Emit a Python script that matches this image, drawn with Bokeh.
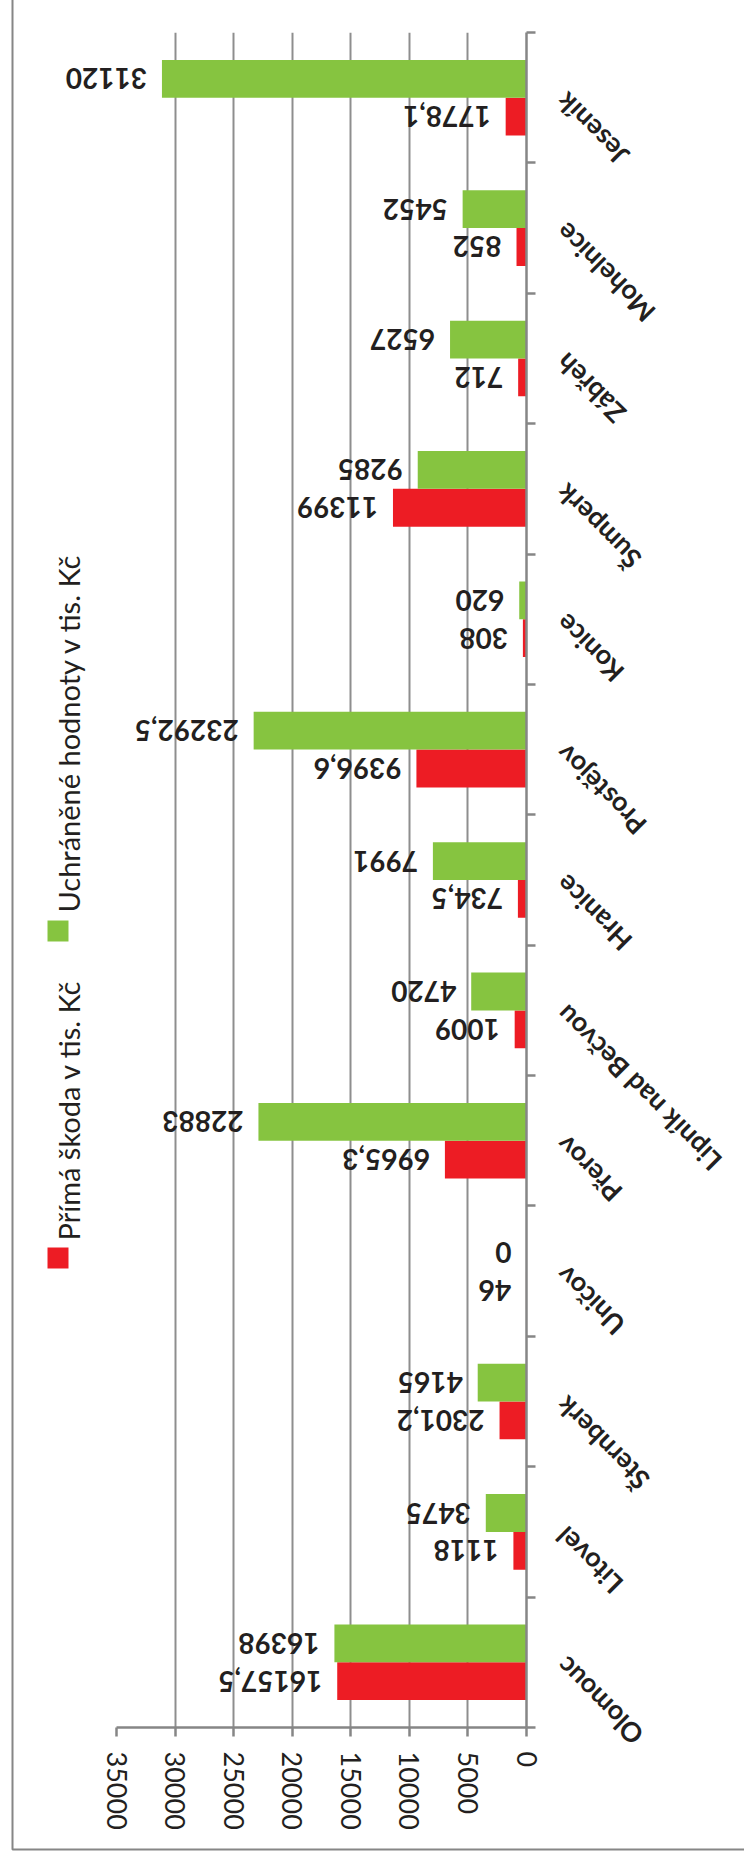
import math
from bokeh.plotting import figure
from bokeh.models import Range1d, LinearAxis, FixedTicker, ColumnDataSource
from bokeh.transform import dodge
from bokeh.core.properties import value
from bokeh.embed import file_html
from bokeh.resources import INLINE

# ---------------- data ----------------
categories = ["Olomouc", "Litovel", "Šternberk", "Uničov", "Přerov", "Lipník nad Bečvou",
              "Hranice", "Prostějov", "Konice", "Šumperk", "Zábřeh", "Mohelnice", "Jeseník"]
prima_skoda = [16157.5, 1118, 2301.2, 46, 6965.3, 1009, 734.5, 9396.6, 308, 11399, 712, 852, 1778.1]
uchranene = [16398, 3475, 4165, 0, 22883, 4720, 7991, 23292.5, 620, 9285, 6527, 5452, 31120]
value_ticks = [0, 5000, 10000, 15000, 20000, 25000, 30000, 35000]
series_names = ["Přímá škoda v tis. Kč", "Uchráněné hodnoty v tis. Kč"]

# ---------------- style / layout ----------------
RED = "#ED1C24"
GREEN = "#86C440"
GRID = "#8E8E8E"
AXIS = "#868686"
TXT = "#231F20"
FONT = "Lato"
W, H = 744, 1854
FL, FR, FT, FB = 116, 526, 32, 1727   # frame edges in page pixels
BAR = 0.29
N = len(categories)


def fmt(v):
    return f"{v:g}".replace(".", ",")


src = ColumnDataSource(dict(
    cat=categories,
    pos=[i + 0.5 for i in range(N)],          # centre of each category band
    prima=prima_skoda,
    uchr=uchranene,
    prima_lbl=[fmt(v) for v in prima_skoda],
    uchr_lbl=[fmt(v) for v in uchranene],
))

p = figure(width=W, height=H,
           x_range=Range1d(max(value_ticks), min(value_ticks)),
           y_range=Range1d(0, N),
           output_backend="svg", toolbar_location=None,
           y_axis_location=None,
           min_border_left=FL, min_border_right=W - FR,
           min_border_top=FT, min_border_bottom=H - FB,
           outline_line_color=None, background_fill_color="white",
           border_fill_color="white")

# pixel-space ranges for decorations outside the plot area
p.extra_y_ranges = {"py": Range1d(FB, FT)}
p.extra_x_ranges = {"px": Range1d(FL, FR)}

# value axis (bottom)
xa = p.xaxis[0]
xa.ticker = FixedTicker(ticks=value_ticks)
xa.major_label_orientation = "vertical"
xa.major_label_text_font = FONT
xa.major_label_text_font_size = "27px"
xa.major_label_text_color = TXT
xa.major_label_standoff = 15
xa.major_tick_out = 9
xa.major_tick_in = 0
xa.minor_tick_out = 0
xa.minor_tick_in = 0
xa.axis_line_color = AXIS
xa.axis_line_width = 2.5
xa.major_tick_line_color = AXIS
xa.major_tick_line_width = 2.5

p.xgrid.ticker = FixedTicker(ticks=value_ticks)
p.xgrid.grid_line_color = GRID
p.xgrid.grid_line_width = 2
p.ygrid.visible = False

# category axis (right) with ticks between categories
ra = LinearAxis(ticker=FixedTicker(ticks=list(range(N + 1))),
                major_label_overrides={i: "" for i in range(N + 1)},
                major_tick_out=9, major_tick_in=0, minor_tick_out=0, minor_tick_in=0,
                axis_line_color=AXIS, axis_line_width=2.5,
                major_tick_line_color=AXIS, major_tick_line_width=2.5)
p.add_layout(ra, "right")

# bars
p.hbar(y=dodge("pos", -BAR / 2), left=0, right="prima", height=BAR,
       source=src, fill_color=RED, line_color=None)
p.hbar(y=dodge("pos", BAR / 2), left=0, right="uchr", height=BAR,
       source=src, fill_color=GREEN, line_color=None)

# data labels (upside down)
for col, lbl, off in (("prima", "prima_lbl", -BAR / 2), ("uchr", "uchr_lbl", BAR / 2)):
    p.text(x=col, y=dodge("pos", off), text=lbl, source=src,
           angle=math.pi, text_align="left", text_baseline="middle", x_offset=-15,
           text_font=value(FONT), text_font_style="bold", text_font_size="28px",
           text_color=TXT, level="overlay")

# category labels
p.text(x=0, y="pos", text="cat", source=src, angle=3 * math.pi / 4,
       text_align="right", text_baseline="middle", x_offset=34,
       text_font=value(FONT), text_font_style="bold", text_font_size="27px",
       text_color=TXT, level="overlay")

# legend (rotated)
leg = ColumnDataSource(dict(name=series_names, color=[RED, GREEN],
                            sx=[57.5, 57.5], sy=[1257.5, 930.5],
                            tx=[68, 68], ty=[1240, 912]))
p.rect(x="sx", y="sy", width=21, height=21, width_units="screen", height_units="screen",
       fill_color="color", line_color=None, source=leg,
       x_range_name="px", y_range_name="py", level="overlay")
p.text(x="tx", y="ty", text="name", source=leg, angle=math.pi / 2,
       text_align="left", text_baseline="alphabetic",
       text_font=value(FONT), text_font_size="29px", text_color=TXT,
       x_range_name="px", y_range_name="py", level="overlay")

# chart border (left and bottom visible)
p.line(x=[12, 12, W + 10], y=[-10, 1849, 1849], line_color=AXIS, line_width=2,
       x_range_name="px", y_range_name="py", level="overlay")

open("out.html", "w").write(file_html(p, INLINE))
